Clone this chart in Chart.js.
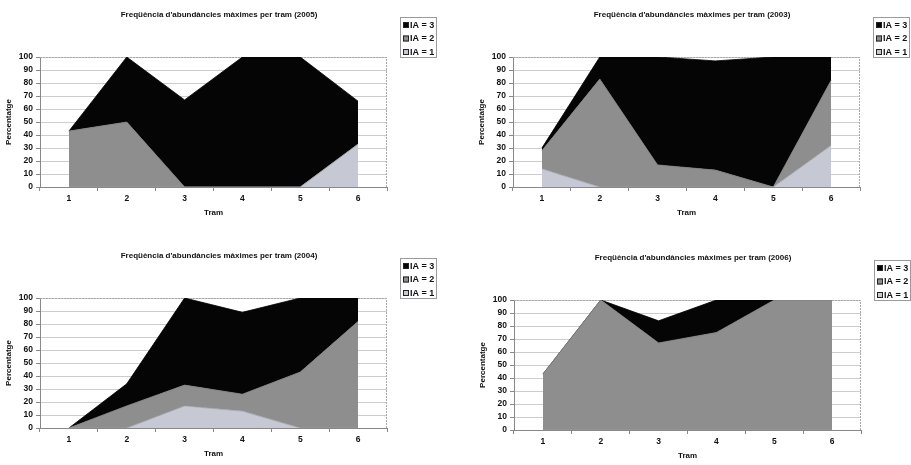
<!DOCTYPE html>
<html>
<head>
<meta charset="utf-8">
<script src="https://cdn.jsdelivr.net/npm/chart.js@4/dist/chart.umd.min.js"></script>
<style>
  html, body { margin: 0; padding: 0; background: #fff; }
  body { width: 911px; height: 465px; position: relative; overflow: hidden; }
  canvas { position: absolute; }
</style>
</head>
<body>
<canvas id="c2005" width="438" height="224" style="left:0px;top:0px"></canvas>
<canvas id="c2003" width="438" height="224" style="left:473px;top:0px"></canvas>
<canvas id="c2004" width="438" height="224" style="left:0px;top:241px"></canvas>
<canvas id="c2006" width="438" height="224" style="left:474px;top:243px"></canvas>
<script>
// Trams (river sections) on the category axis
const TRAMS = ['1', '2', '3', '4', '5', '6'];
const SERIES_LABELS = ['IA = 1', 'IA = 2', 'IA = 3'];

// Percentage of maximum abundance index per tram, by year
const IA1_2005 = [0, 0, 0, 0, 0, 33];
const IA2_2005 = [43, 50, 0, 0, 0, 0];
const IA3_2005 = [0, 50, 67, 100, 100, 33];

const IA1_2003 = [14, 0, 0, 0, 0, 32];
const IA2_2003 = [14, 83, 17, 13, 0, 50];
const IA3_2003 = [2, 17, 83, 84, 100, 18];

const IA1_2004 = [0, 0, 17, 13, 0, 0];
const IA2_2004 = [0, 17, 16, 13, 43, 82];
const IA3_2004 = [0, 17, 67, 63, 57, 18];

const IA1_2006 = [0, 0, 0, 0, 0, 0];
const IA2_2006 = [43, 100, 67, 75, 100, 100];
const IA3_2006 = [0, 0, 17, 25, 0, 0];

const FONT = '"Liberation Sans", Arial, sans-serif';
const FILLS = ['#c6c8d4', '#8e8e8e', '#050505'];
const EDGES = ['#9c9ea9', '#7a7a7a', '#000000'];

// Thin dotted frame around the plotting area, under the areas
const plotFrame = {
  id: 'plotFrame',
  beforeDatasetsDraw(chart) {
    const { ctx, chartArea: a } = chart;
    ctx.save();
    ctx.strokeStyle = '#a8a8a8';
    ctx.lineWidth = 1;
    ctx.setLineDash([2, 1]);
    ctx.beginPath();
    ctx.moveTo(a.left, a.top + 0.5);
    ctx.lineTo(a.right - 0.5, a.top + 0.5);
    ctx.lineTo(a.right - 0.5, a.bottom);
    ctx.stroke();
    ctx.restore();
  }
};

// Boxed legend at the upper right, listed top series first
const boxLegend = {
  id: 'boxLegend',
  afterDraw(chart) {
    const { ctx, chartArea: a } = chart;
    const x = a.right + 13, y = a.top - 40, w = 36, h = 40;
    ctx.save();
    ctx.fillStyle = '#fff';
    ctx.fillRect(x, y, w, h);
    ctx.strokeStyle = '#9a9a9a';
    ctx.lineWidth = 1;
    ctx.strokeRect(x + 0.5, y + 0.5, w, h);
    ctx.font = 'bold 9px ' + FONT;
    ctx.textBaseline = 'middle';
    ctx.textAlign = 'left';
    const ds = chart.data.datasets.slice().reverse();
    ds.forEach((d, i) => {
      const cy = y + 8 + i * 13.5;
      ctx.fillStyle = d.backgroundColor;
      ctx.fillRect(x + 3, cy - 3, 6, 6);
      ctx.strokeStyle = '#222';
      ctx.strokeRect(x + 3.5, cy - 2.5, 5, 5);
      ctx.fillStyle = '#111';
      ctx.fillText(d.label, x + 10, cy + 0.5);
    });
    ctx.restore();
  }
};

function makeChart(id, year, ia1, ia2, ia3) {
  const values = [ia1, ia2, ia3];
  new Chart(document.getElementById(id), {
    type: 'line',
    data: {
      labels: TRAMS,
      datasets: values.map((v, i) => ({
        label: SERIES_LABELS[i],
        data: v,
        backgroundColor: FILLS[i],
        borderColor: EDGES[i],
        borderWidth: 0.8,
        pointRadius: 0,
        tension: 0,
        fill: i === 0 ? 'origin' : '-1'
      }))
    },
    options: {
      responsive: false,
      animation: false,
      devicePixelRatio: 1,
      layout: { padding: 0 },
      plugins: {
        legend: { display: false },
        tooltip: { enabled: false },
        title: {
          display: true,
          text: "Freqüència d'abundàncies màximes per tram (" + year + ")",
          font: { family: FONT, size: 8, weight: 'bold' },
          color: '#111',
          padding: { top: 10, bottom: 37.4 }
        }
      },
      scales: {
        x: {
          offset: true,
          afterFit(s) { s.height = 37; },
          grid: { display: true, drawOnChartArea: false, offset: true, tickLength: 4, color: '#888' },
          border: { display: true, color: '#888' },
          ticks: { font: { family: FONT, size: 8.5, weight: 'bold' }, color: '#111', padding: 3, maxRotation: 0, autoSkip: false },
          title: {
            display: true, text: 'Tram',
            font: { family: FONT, size: 8, weight: 'bold' }, color: '#111',
            padding: { top: 0, bottom: 6 }
          }
        },
        y: {
          stacked: true,
          min: 0, max: 100,
          afterFit(s) { s.width = 40; },
          grid: { color: '#cdcdcd', tickColor: '#888', tickLength: 4 },
          border: { display: true, color: '#888' },
          ticks: { stepSize: 10, autoSkip: false, font: { family: FONT, size: 8.5, weight: 'bold' }, color: '#111', padding: 3 },
          title: {
            display: true, text: 'Percentatge',
            font: { family: FONT, size: 8, weight: 'bold' }, color: '#111',
            padding: { top: 4, bottom: 0 }
          }
        },
        // empty right-hand band that holds the legend
        legendBand: {
          position: 'right',
          min: 0, max: 1,
          afterFit(s) { s.width = 51; },
          grid: { display: false },
          border: { display: false },
          ticks: { display: false }
        }
      }
    },
    plugins: [plotFrame, boxLegend]
  });
}

makeChart('c2005', 2005, IA1_2005, IA2_2005, IA3_2005);
makeChart('c2003', 2003, IA1_2003, IA2_2003, IA3_2003);
makeChart('c2004', 2004, IA1_2004, IA2_2004, IA3_2004);
makeChart('c2006', 2006, IA1_2006, IA2_2006, IA3_2006);
</script>
</body>
</html>
